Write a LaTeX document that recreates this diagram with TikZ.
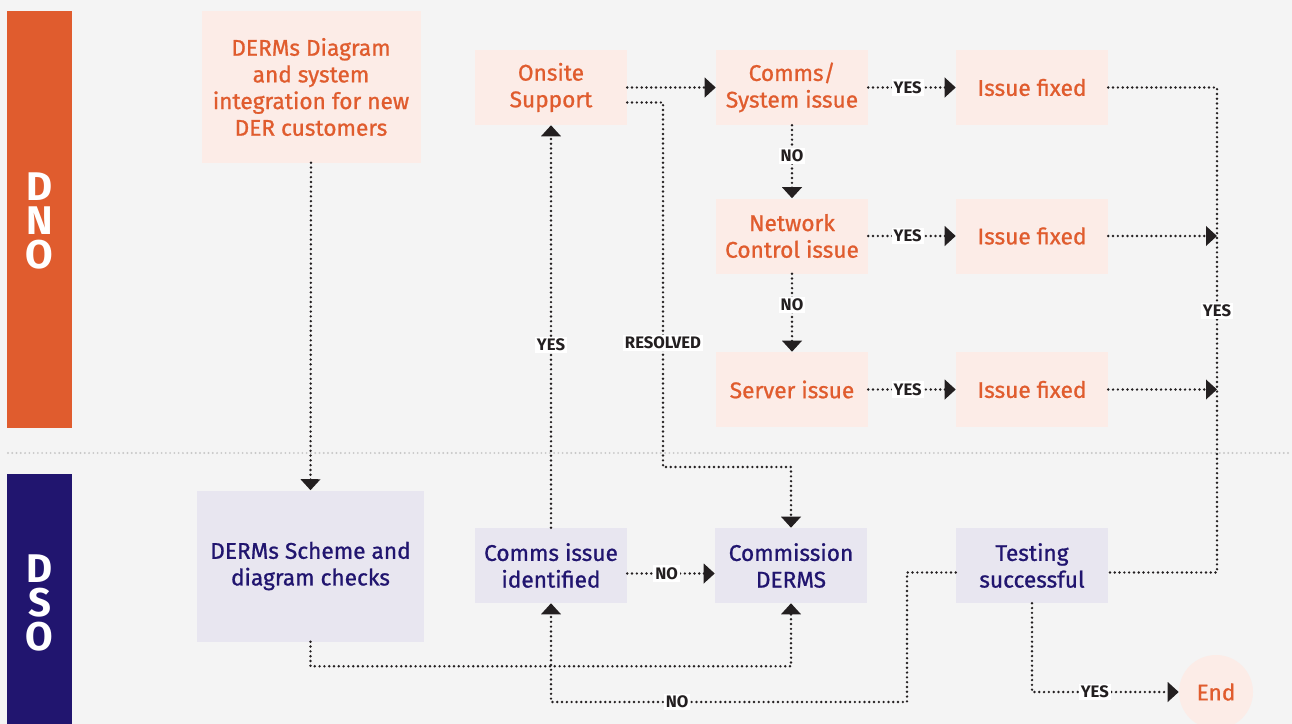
\documentclass[tikz,border=0pt]{standalone}
\usepackage{fontspec}
\setmainfont{Fira Sans}
\newfontfamily\boxfont{Fira Sans}[FakeBold=0.9]
\usetikzlibrary{arrows.meta,calc}

\definecolor{bg}{HTML}{F4F4F4}
\definecolor{dnoorange}{HTML}{E05C2E}
\definecolor{dnofill}{HTML}{FCECE7}
\definecolor{dsonavy}{HTML}{21156F}
\definecolor{dsofill}{HTML}{E8E6F0}
\definecolor{ink}{HTML}{231F20}
\definecolor{divider}{HTML}{C8C8C8}

\tikzset{
  dnobox/.style={rectangle, fill=dnofill, text=dnoorange, align=center,
    inner sep=0pt, minimum width=114pt, minimum height=56.25pt,
    font=\boxfont\fontsize{17}{20}\selectfont},
  dsobox/.style={dnobox, fill=dsofill, text=dsonavy},
  flow/.style={ink, line width=2pt, dash pattern=on 0pt off 3.6pt, line cap=round},
  tip/.style={-{Triangle[length=8.25pt,width=14.5pt]}},
  lab/.style={fill=white, text=ink, inner sep=1.5pt,
    font=\bfseries\fontsize{12.5}{13}\selectfont},
  lane/.style={text=white, inner sep=0pt, font=\bfseries\fontsize{30}{30}\selectfont}
}

\begin{document}
\begin{tikzpicture}[x=0.75pt,y=-0.75pt]
  % canvas
  \useasboundingbox (0,0) rectangle (1292,724);
  \fill[bg] (0,0) rectangle (1292,724);

  % swim lanes
  \fill[dnoorange] (7,11) rectangle (72,428);
  \fill[dsonavy] (7,474) rectangle (72,724);
  \node[lane] (dnoD) at (39.5,187) {D};
  \node[lane] (dnoN) at (39.5,221) {N};
  \node[lane] (dnoO) at (39.5,255) {O};
  \node[lane] (dsoD) at (39.5,569) {D};
  \node[lane] (dsoS) at (39.5,603) {S};
  \node[lane] (dsoO) at (39.5,637) {O};
  \draw[divider, line width=1.6pt, dash pattern=on 0pt off 3.2pt, line cap=round]
    (8,453) -- (1292,453);

  % DNO lane
  \node[dnobox, minimum width=164.25pt, minimum height=113.25pt] (A) at (311,87)
    {DERMs Diagram\\and system\\integration for new\\DER customers};
  \node[dnobox] (onsite) at (551,87.5) {Onsite\\Support};
  \node[dnobox] (comms) at (792,87.5) {Comms/\\System issue};
  \node[dnobox] (fix1) at (1032,87.5) {Issue fixed};
  \node[dnobox] (net) at (792,236) {Network\\Control issue};
  \node[dnobox] (fix2) at (1032,236) {Issue fixed};
  \node[dnobox] (server) at (792,389.5) {Server issue};
  \node[dnobox] (fix3) at (1032,389.5) {Issue fixed};

  % DSO lane
  \node[dsobox, minimum width=170.25pt, minimum height=113.25pt] (scheme) at (310.5,566)
    {DERMs Scheme and\\diagram checks};
  \node[dsobox] (cid) at (551,565.5) {Comms issue\\identified};
  \node[dsobox] (comm) at (791,565.5) {Commission\\DERMS};
  \node[dsobox] (test) at (1032,565.5) {Testing\\successful};
  \node[circle, fill=dnofill, text=dnoorange, minimum size=55.5pt, inner sep=0pt,
    font=\boxfont\fontsize{17}{20}\selectfont] (End) at (1216,692) {End};

  % helper points for routed connectors
  \coordinate (os2) at ($(onsite.east)+(0,15)$);
  \coordinate (rv) at (663,467);
  \coordinate (trunk) at (1217,0);
  \coordinate (te) at ($(test.east)+(0,7)$);
  \coordinate (tw) at ($(test.west)+(0,7)$);
  \coordinate (ce) at ($(cid.east)+(0,8)$);
  \coordinate (cw) at ($(comm.west)+(0,8)$);
  \coordinate (nb) at (907,702);

  % connectors
  \draw[flow,tip] (A.south) -- (scheme.north);
  \draw[flow,tip] (scheme.south) |- ($(comm.south)+(0,63)$) -- (comm.south);
  \draw[flow,tip] (cid.north) -- node[lab,pos=0.454]{YES} (onsite.south);
  \draw[flow,tip] (ce) -- node[lab,pos=0.45]{NO} (cw);
  \draw[flow,tip] (onsite.east) -- (comms.west);
  \draw[flow,tip] (os2) -- (os2 -| rv) -- node[lab,pos=0.66]{RESOLVED} (rv) -| (comm.north);
  \draw[flow,tip] (comms.east) -- node[lab,pos=0.45]{YES} (fix1.west);
  \draw[flow,tip] (comms.south) -- node[lab,pos=0.42]{NO} (net.north);
  \draw[flow,tip] (net.east) -- node[lab,pos=0.45]{YES} (fix2.west);
  \draw[flow,tip] (net.south) -- node[lab,pos=0.4]{NO} (server.north);
  \draw[flow,tip] (server.east) -- node[lab,pos=0.45]{YES} (fix3.west);
  \draw[flow] (fix1.east) -- (fix1.east -| trunk) -- node[lab,pos=0.46]{YES} (te -| trunk) -- (te);
  \draw[flow,tip] (fix2.east) -- (fix2.east -| trunk);
  \draw[flow,tip] (fix3.east) -- (fix3.east -| trunk);
  \draw[flow,tip] (tw) -| (nb) -| node[lab,pos=0.323]{NO} (cid.south);
  \draw[flow,tip] (test.south) |- node[lab,pos=0.714]{YES} (End.west);
\end{tikzpicture}
\end{document}
